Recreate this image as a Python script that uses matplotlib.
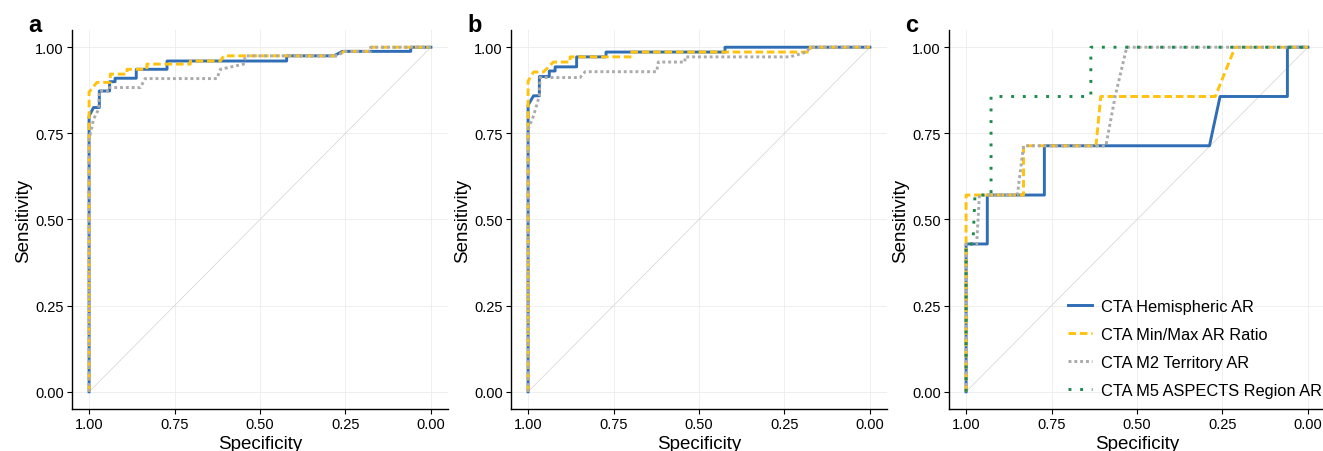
"""ROC curves of the CTA AR measures, three panels."""
import matplotlib
matplotlib.use("Agg")
import matplotlib.pyplot as plt
from matplotlib.lines import Line2D

plt.rcParams["font.family"] = ["Liberation Sans", "DejaVu Sans"]

series_names = ["CTA Hemispheric AR", "CTA Min/Max AR Ratio",
                "CTA M2 Territory AR", "CTA M5 ASPECTS Region AR"]
panel_labels = ["a", "b", "c"]
ticks = [0.00, 0.25, 0.50, 0.75, 1.00]
tick_labels = ["0.00", "0.25", "0.50", "0.75", "1.00"]

# panel a
a_hemi_spec = [1.00, 1.00, 0.987, 0.970, 0.970, 0.940, 0.940, 0.924, 0.924, 0.862, 0.862,
               0.772, 0.772, 0.422, 0.422, 0.284, 0.259, 0.059, 0.059, 0.00]
a_hemi_sens = [0.00, 0.800, 0.825, 0.825, 0.873, 0.873, 0.900, 0.900, 0.910, 0.910, 0.936,
               0.936, 0.960, 0.960, 0.975, 0.975, 0.988, 0.988, 1.00, 1.00]
a_ratio_spec = [1.00, 1.00, 0.977, 0.938, 0.938, 0.889, 0.889, 0.831, 0.831, 0.704, 0.704,
                0.616, 0.606, 0.274, 0.254, 0.176, 0.176, 0.00]
a_ratio_sens = [0.00, 0.870, 0.898, 0.898, 0.922, 0.922, 0.936, 0.936, 0.951, 0.951, 0.960,
                0.960, 0.975, 0.975, 0.988, 0.988, 1.00, 1.00]
a_m2_spec = [1.00, 1.00, 0.987, 0.972, 0.970, 0.940, 0.940, 0.850, 0.836, 0.626, 0.616,
             0.548, 0.543, 0.274, 0.254, 0.176, 0.176, 0.00]
a_m2_sens = [0.00, 0.733, 0.791, 0.820, 0.873, 0.873, 0.883, 0.883, 0.909, 0.909, 0.936,
             0.951, 0.975, 0.975, 0.988, 0.988, 1.00, 1.00]

# panel b
b_hemi_spec = [1.00, 1.00, 0.984, 0.967, 0.967, 0.938, 0.938, 0.921, 0.921, 0.858, 0.858,
               0.772, 0.772, 0.424, 0.424, 0.00]
b_hemi_sens = [0.00, 0.832, 0.859, 0.859, 0.915, 0.915, 0.931, 0.931, 0.943, 0.943, 0.972,
               0.972, 0.986, 0.986, 1.00, 1.00]
b_ratio_spec = [1.00, 1.00, 0.984, 0.955, 0.926, 0.877, 0.877, 0.697, 0.697, 0.175, 0.175, 0.00]
b_ratio_sens = [0.00, 0.902, 0.928, 0.928, 0.957, 0.957, 0.972, 0.972, 0.986, 0.986, 1.00, 1.00]
b_m2_spec = [1.00, 1.00, 0.984, 0.967, 0.965, 0.848, 0.833, 0.624, 0.619, 0.541, 0.541,
             0.234, 0.185, 0.175, 0.00]
b_m2_sens = [0.00, 0.762, 0.801, 0.859, 0.912, 0.912, 0.929, 0.929, 0.957, 0.957, 0.972,
             0.972, 0.986, 1.00, 1.00]

# panel c
c_hemi_spec = [1.00, 1.00, 0.938, 0.938, 0.771, 0.771, 0.288, 0.257, 0.060, 0.060, 0.00]
c_hemi_sens = [0.00, 0.429, 0.429, 0.571, 0.571, 0.714, 0.714, 0.857, 0.857, 1.00, 1.00]
c_ratio_spec = [1.00, 1.00, 0.832, 0.832, 0.620, 0.606, 0.271, 0.213, 0.00]
c_ratio_sens = [0.00, 0.571, 0.571, 0.714, 0.714, 0.857, 0.857, 1.00, 1.00]
c_m2_spec = [1.00, 1.00, 0.969, 0.961, 0.850, 0.832, 0.591, 0.564, 0.530, 0.00]
c_m2_sens = [0.00, 0.429, 0.429, 0.571, 0.571, 0.714, 0.714, 0.857, 1.00, 1.00]
c_m5_spec = [1.00, 1.00, 0.980, 0.974, 0.927, 0.927, 0.635, 0.635, 0.00]
c_m5_sens = [0.00, 0.429, 0.429, 0.571, 0.571, 0.857, 0.857, 1.00, 1.00]

panels = [
    [(a_hemi_spec, a_hemi_sens), (a_ratio_spec, a_ratio_sens), (a_m2_spec, a_m2_sens)],
    [(b_hemi_spec, b_hemi_sens), (b_ratio_spec, b_ratio_sens), (b_m2_spec, b_m2_sens)],
    [(c_hemi_spec, c_hemi_sens), (c_ratio_spec, c_ratio_sens), (c_m2_spec, c_m2_sens),
     (c_m5_spec, c_m5_sens)],
]

styles = [
    dict(color="#2F6DB5", linestyle="-"),
    dict(color="#FFC20E", linestyle=(0, (2.6, 1.3))),
    dict(color="#ABABAB", linestyle=(0, (1, 1))),
    dict(color="#1E8A4C", linestyle=(0, (1, 3))),
]
LW = 2.1

W, H = 1323, 452
fig = plt.figure(figsize=(W / 100, H / 100), dpi=100)
fig.patch.set_facecolor("white")

lefts = [72, 511, 949]
for i, left in enumerate(lefts):
    ax = fig.add_axes([left / W, 42 / H, 376 / W, 379 / H])
    ax.set_xlim(1.05, -0.05)
    ax.set_ylim(-0.05, 1.05)
    ax.set_xticks(ticks)
    ax.set_yticks(ticks)
    ax.set_xticklabels(tick_labels)
    ax.set_yticklabels(tick_labels)
    ax.grid(True, color="#EDEDED", linewidth=0.6)
    ax.set_axisbelow(True)
    for side in ("top", "right"):
        ax.spines[side].set_visible(False)
    for side in ("left", "bottom"):
        ax.spines[side].set_linewidth(1.0)
    ax.tick_params(length=3.5, width=0.8, labelsize=10.5, colors="black", pad=2.5)

    ax.plot([1, 0], [0, 1], color="#D3D3D3", linewidth=0.5, zorder=1)
    for (spec, sens), st in zip(panels[i], styles):
        ax.plot(spec, sens, linewidth=LW, zorder=2, **st)

    ax.set_xlabel("Specificity", fontsize=13.5, labelpad=2.5)
    ax.set_ylabel("Sensitivity", fontsize=13.5, labelpad=2)
    fig.text((left - 44) / W, 1 - 26 / H, panel_labels[i], fontsize=17,
             fontweight="bold", ha="left", va="center")

    if i == 2:
        handles = [Line2D([], [], linewidth=LW, **st) for st in styles]
        ax.legend(handles, series_names, loc="lower left",
                  bbox_to_anchor=((1068 - left) / 376, 11 / 379),
                  frameon=False, fontsize=11.8, handlelength=1.45,
                  handletextpad=0.55, labelspacing=0.8, borderaxespad=0,
                  borderpad=0)

fig.savefig("out.png", dpi=100, facecolor="white")
